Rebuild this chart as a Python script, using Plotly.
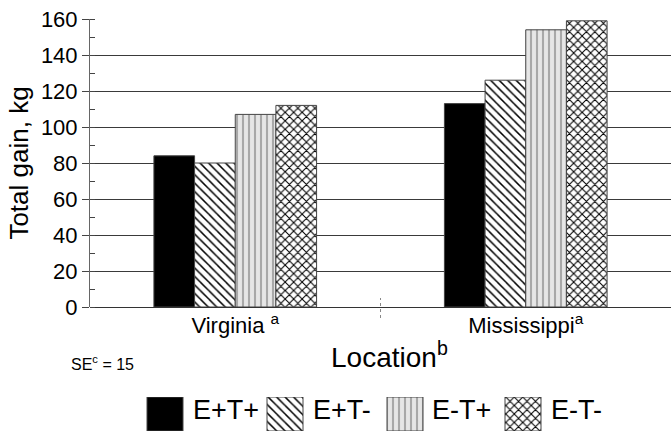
import plotly.graph_objects as go

# Total gain by location and endophyte/toxin treatment
locations = ["Virginia <sup>a</sup>", "Mississippi<sup>a</sup>"]
treatments = ["E+T+", "E+T-", "E-T+", "E-T-"]
gain = {
    "E+T+": [84, 113],
    "E+T-": [80, 126],
    "E-T+": [107, 154],
    "E-T-": [112, 159],
}
y_ticks = [0, 20, 40, 60, 80, 100, 120, 140, 160]

FONT = "Liberation Sans, Arial, sans-serif"
H = 431
PLOT_H = H - 19  # plot area height (top margin 19, bottom 0)


def py(pixel_y):
    """Convert a page pixel row to paper coordinates."""
    return (H - pixel_y) / PLOT_H


styles = {
    "E+T+": dict(color="black", pattern=dict(shape="")),
    "E+T-": dict(color="white", pattern=dict(shape="\\", fgcolor="black", bgcolor="white",
                                             size=6, solidity=0.25, fillmode="replace")),
    "E-T+": dict(color="#e4e4e4", pattern=dict(shape="|", fgcolor="#a8a8a8", bgcolor="#e6e6e6",
                                               size=6, solidity=0.35, fillmode="replace")),
    "E-T-": dict(color="white", pattern=dict(shape="x", fgcolor="black", bgcolor="white",
                                             size=6, solidity=0.32, fillmode="replace")),
}

fig = go.Figure()
for t in treatments:
    st = styles[t]
    fig.add_trace(go.Bar(
        x=locations, y=gain[t], name=t,
        marker=dict(color=st["color"], pattern=st["pattern"],
                    line=dict(color="#444", width=1)),
        showlegend=False,
    ))

# Legend swatches on a hidden strip below the chart
swatch_x = [165, 285, 405, 523]
label_x = [191, 311, 430, 549]
for i, t in enumerate(treatments):
    st = styles[t]
    fig.add_trace(go.Bar(
        x=[swatch_x[i]], y=[1], width=[36], xaxis="x2", yaxis="y2",
        marker=dict(color=st["color"], pattern=st["pattern"],
                    line=dict(color="#444", width=1)),
        showlegend=False, hoverinfo="skip",
    ))
    fig.add_annotation(x=label_x[i], y=py(410), xref="x2", yref="paper", text=t,
                       showarrow=False, xanchor="left", yanchor="middle",
                       font=dict(family=FONT, size=27, color="black"))

fig.add_annotation(x=(329 - 90) / 581, y=py(355), xref="paper", yref="paper",
                   text="Location<sup>b</sup>", showarrow=False,
                   xanchor="left", yanchor="middle",
                   font=dict(family=FONT, size=28, color="black"))
fig.add_annotation(x=(69 - 90) / 581, y=py(363), xref="paper", yref="paper",
                   text="SE<sup>c</sup> = 15", showarrow=False,
                   xanchor="left", yanchor="middle",
                   font=dict(family=FONT, size=16, color="black"))

# dotted divider between the two location groups
fig.add_shape(type="line", xref="x", yref="paper", x0=0.5, x1=0.5,
              y0=py(318), y1=py(298),
              line=dict(color="#888", width=1, dash="dot"))

fig.update_layout(
    width=671, height=H,
    margin=dict(l=90, r=0, t=19, b=0, autoexpand=False),
    paper_bgcolor="white", plot_bgcolor="white",
    barmode="group", bargap=0.44, bargroupgap=0,
    font=dict(family=FONT, color="black"),
    xaxis=dict(domain=[0, 1], showline=False, ticks="", ticklabelstandoff=3,
               tickfont=dict(size=22, family=FONT), showgrid=False, automargin=False),
    yaxis=dict(domain=[py(307), 1], range=[0, 160],
               tickvals=y_ticks, ticktext=[str(v) for v in y_ticks],
               showgrid=True, gridcolor="#3a3a3a", gridwidth=1,
               showline=True, linecolor="#666", linewidth=1,
               ticks="outside", ticklen=7, tickcolor="#444",
               minor=dict(dtick=10, ticks="inside", ticklen=5, tickcolor="#444", showgrid=False),
               zeroline=True, zerolinecolor="#333", zerolinewidth=1,
               tickfont=dict(size=22, family=FONT), automargin=False,
               title=dict(text="Total gain, kg", font=dict(size=26, family=FONT), standoff=4)),
    xaxis2=dict(domain=[0, 1], range=[90, 671], visible=False, anchor="y2"),
    yaxis2=dict(domain=[0, py(397)], range=[0, 1], visible=False, anchor="x2"),
)

fig.write_html("out.html")
